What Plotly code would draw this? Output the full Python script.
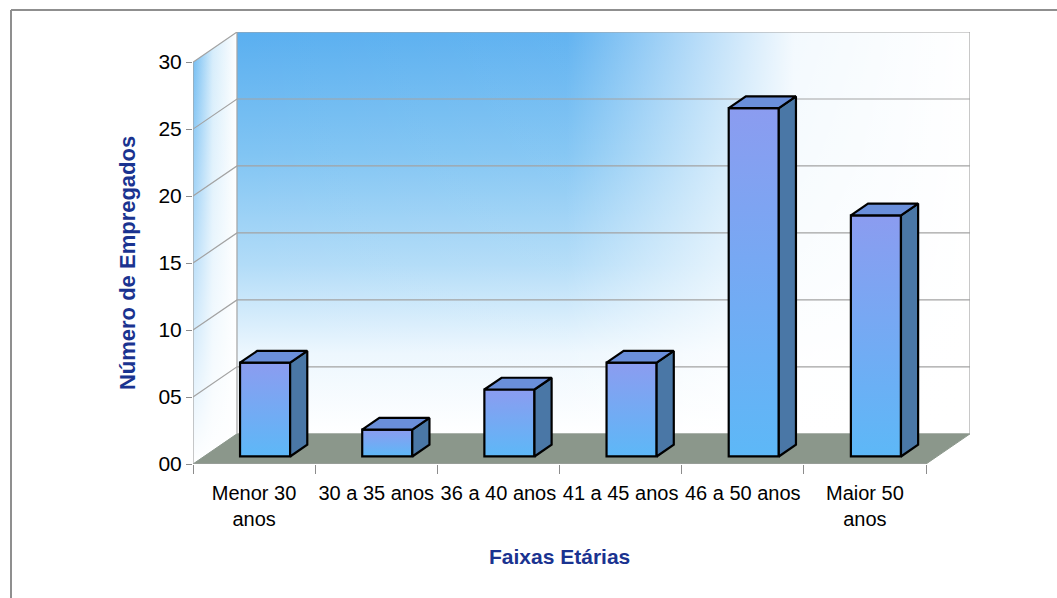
import plotly.graph_objects as go

# Employees per age bracket
categories = ["Menor 30<br>anos", "30 a 35 anos", "36 a 40 anos",
              "41 a 45 anos", "46 a 50 anos", "Maior 50<br>anos"]
employees = [7, 2, 5, 7, 26, 18]
y_ticks = [0, 5, 10, 15, 20, 25, 30]
y_max = 30

# Oblique-projection parameters for the pseudo-3D look (in data units)
DX, DY = 0.36, 2.25          # full depth of the floor / walls
D0, D1 = 0.25, 0.64          # bar front / back as fraction of depth
BAR_W = 0.41

FONT = "Arial, Liberation Sans, sans-serif"
NAVY = "#1a3390"
GRID = "#a3a3a3"
n = len(categories)
x_left, x_right = -0.5, n - 0.5

fig = go.Figure()


def poly(xs, ys, **kw):
    fig.add_trace(go.Scatter(x=xs + [xs[0]], y=ys + [ys[0]], mode="lines",
                             fill="toself", hoverinfo="skip",
                             showlegend=False, **kw))


# back wall: vertical blue fade plus a white fade toward the right
bw_x = [x_left + DX, x_right + DX, x_right + DX, x_left + DX]
bw_y = [DY, DY, y_max + DY, y_max + DY]
poly(bw_x, bw_y, line=dict(width=0), zorder=0,
     fillgradient=dict(type="vertical", start=DY, stop=y_max + DY,
                       colorscale=[[0, "#ffffff"], [0.2, "#edf7fe"],
                                   [0.42, "#b2dcf8"], [0.7, "#80c4f3"],
                                   [1, "#5aaff0"]]))
poly(bw_x, bw_y, line=dict(width=0), zorder=0,
     fillgradient=dict(type="horizontal", start=x_left + DX, stop=x_right + DX,
                       colorscale=[[0, "rgba(255,255,255,0)"],
                                   [0.45, "rgba(255,255,255,0.05)"],
                                   [0.76, "rgba(255,255,255,0.93)"],
                                   [1, "rgba(255,255,255,1)"]]))

# left side wall
sw_x = [x_left, x_left + DX, x_left + DX, x_left]
sw_y = [0, DY, y_max + DY, y_max]
poly(sw_x, sw_y, line=dict(width=0), zorder=0,
     fillgradient=dict(type="horizontal", start=x_left, stop=x_left + DX,
                       colorscale=[[0, "#6cbaf2"], [0.45, "#d4ecfb"],
                                   [1, "#ffffff"]]))
poly(sw_x, sw_y, line=dict(width=0), zorder=0,
     fillgradient=dict(type="vertical", start=0, stop=y_max + DY,
                       colorscale=[[0, "rgba(255,255,255,1)"],
                                   [0.4, "rgba(255,255,255,0.6)"],
                                   [1, "rgba(255,255,255,0)"]]))

# floor
poly([x_left, x_right, x_right + DX, x_left + DX], [0, 0, DY, DY],
     line=dict(width=1, color="#8b978b"), fillcolor="#8b978b", zorder=0)

# gridlines on the back wall and side wall
gx, gy = [], []
for v in y_ticks[1:]:
    gx += [x_left, x_left + DX, x_right + DX, None]
    gy += [v, v + DY, v + DY, None]
gx += [x_left + DX, x_left + DX, None, x_right + DX, x_right + DX, None,
       x_left, x_left, None, x_left, x_right]
gy += [DY, y_max + DY, None, DY, y_max + DY, None,
       0, y_max, None, 0, 0]
fig.add_trace(go.Scatter(x=gx, y=gy, mode="lines", hoverinfo="skip",
                         line=dict(color=GRID, width=1.2), showlegend=False,
                         zorder=0))

# bars: gradient front faces, outlined front, shaded side and top
ddx, ddy = (D1 - D0) * DX, (D1 - D0) * DY
base = D0 * DY
bar_x = [i + D0 * DX for i in range(n)]
for xc, v in zip(bar_x, employees):
    xl, xr, top = xc - BAR_W / 2, xc + BAR_W / 2, base + v
    poly([xl, xr, xr, xl], [base, base, top, top], line=dict(width=0),
         zorder=1,
         fillgradient=dict(type="vertical", start=base, stop=top,
                           colorscale=[[0, "#5db8f7"], [1, "#8b9cf0"]]))

fig.add_trace(go.Bar(x=bar_x, y=employees, base=base, width=BAR_W,
                     marker=dict(color="rgba(0,0,0,0)",
                                 line=dict(color="#000000", width=2.2)),
                     showlegend=False, zorder=2))

for xc, v in zip(bar_x, employees):
    xl, xr, top = xc - BAR_W / 2, xc + BAR_W / 2, base + v
    poly([xr, xr + ddx, xr + ddx, xr], [base, base + ddy, top + ddy, top],
         line=dict(color="#000000", width=2.2), fillcolor="#4a77a6",
         zorder=3)
    poly([xl, xr, xr + ddx, xl + ddx], [top, top, top + ddy, top + ddy],
         line=dict(color="#000000", width=2.2), fillcolor="#6a8fda",
         zorder=3)

W, H = 1057, 598
L, R, T, B = 193, 87, 32, 134
pw, ph = W - L - R, H - T - B

fig.update_layout(
    width=W, height=H,
    margin=dict(l=L, r=R, t=T, b=B, pad=0),
    paper_bgcolor="white", plot_bgcolor="rgba(0,0,0,0)",
    font=dict(family=FONT, color="#000000"),
    showlegend=False,
    xaxis=dict(range=[x_left, x_right + DX], tickmode="array",
               tickvals=list(range(n)), ticktext=categories,
               tickfont=dict(size=20, family=FONT), ticks="outside",
               ticklen=11, tickcolor="rgba(0,0,0,0)",
               minor=dict(tickmode="array",
                          tickvals=[i - 0.5 for i in range(n + 1)],
                          ticks="outside", ticklen=9, tickcolor="#8c8c8c",
                          tickwidth=1.2),
               showgrid=False, zeroline=False, showline=False,
               fixedrange=True),
    yaxis=dict(range=[0, y_max + DY], tickmode="array", tickvals=y_ticks,
               tickformat="02d", tickfont=dict(size=21, family=FONT),
               ticks="outside", ticklen=6, tickcolor="#8c8c8c", tickwidth=1.2,
               showgrid=False, zeroline=False, showline=False,
               fixedrange=True),
    annotations=[
        dict(text="<b>Faixas Etárias</b>", xref="x", yref="paper",
             x=(x_left + x_right) / 2, y=(H - B - 556) / ph,
             xanchor="center", yanchor="middle", showarrow=False,
             font=dict(size=21, color=NAVY, family=FONT)),
        dict(text="<b>Número de Empregados</b>", xref="paper", yref="y",
             x=(127 - L) / pw, y=y_max / 2, textangle=-90,
             xanchor="center", yanchor="middle", showarrow=False,
             font=dict(size=22, color=NAVY, family=FONT)),
    ],
    shapes=[
        dict(type="line", xref="paper", yref="paper",
             x0=(11 - L) / pw, x1=(W - L) / pw,
             y0=(H - B - 10) / ph, y1=(H - B - 10) / ph,
             line=dict(color="#8f8f8f", width=2)),
        dict(type="line", xref="paper", yref="paper",
             x0=(11 - L) / pw, x1=(11 - L) / pw,
             y0=(H - B - 10) / ph, y1=-(B + 5) / ph,
             line=dict(color="#8f8f8f", width=2)),
    ],
)

fig.write_html("out.html")
